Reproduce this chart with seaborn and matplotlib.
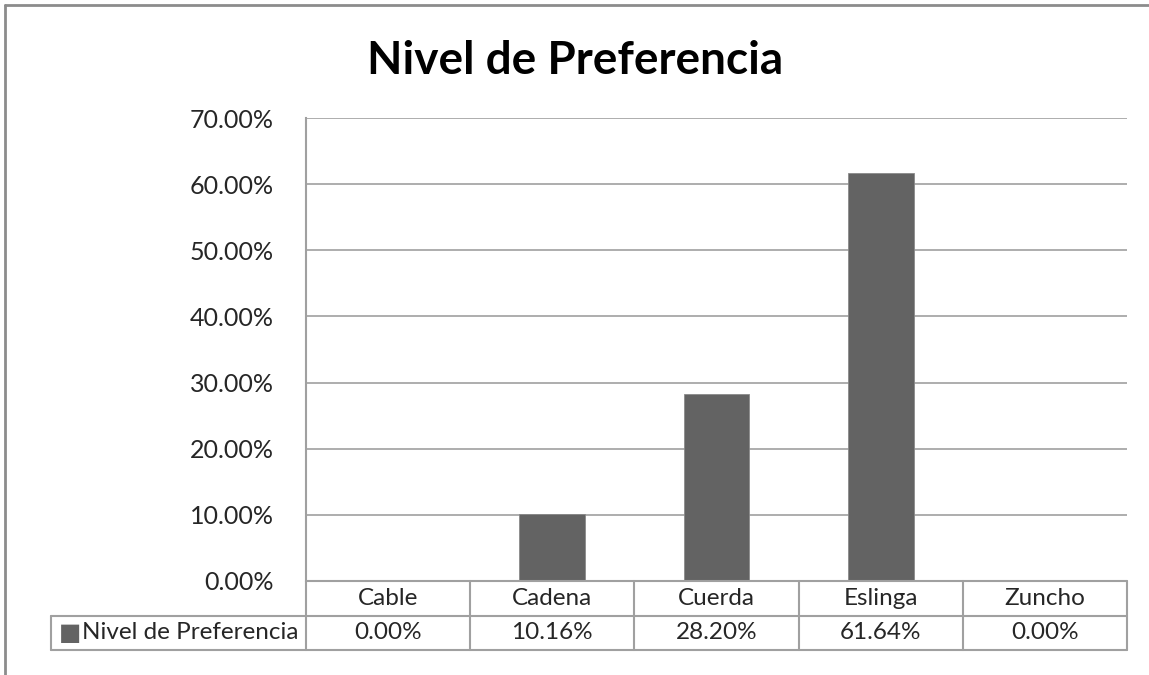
import numpy as np
import pandas as pd
import matplotlib
matplotlib.use('Agg')
import matplotlib.pyplot as plt
import seaborn as sns
from matplotlib.lines import Line2D

categories = ['Cable', 'Cadena', 'Cuerda', 'Eslinga', 'Zuncho']
values = [0.0, 10.16, 28.20, 61.64, 0.0]
series_name = 'Nivel de Preferencia'
title = 'Nivel de Preferencia'
yticks = [0, 10, 20, 30, 40, 50, 60, 70]

sns.set_theme(style='white')
plt.rcParams['font.family'] = ['Lato', 'DejaVu Sans']

bar_color = '#636363'
line_color = '#a0a0a0'
W, H = 1149, 675
fs = 17.5

df = pd.DataFrame({'cat': categories, 'val': values})

fig = plt.figure(figsize=(W / 100, H / 100), dpi=100)
fig.patch.set_facecolor('white')

# chart border (left + top)
fig.add_artist(Line2D([5 / W, 5 / W], [0, 1 - 5 / H], color='#8c8c8c', lw=2))
fig.add_artist(Line2D([5 / W, 1], [1 - 5 / H, 1 - 5 / H], color='#8c8c8c', lw=2))

x0, x1 = 306 / W, 1127 / W
ax = fig.add_axes([x0, (H - 581) / H, x1 - x0, 463 / H])
sns.barplot(data=df, x='cat', y='val', color=bar_color, width=0.4,
            saturation=1, ax=ax, edgecolor='#8a8a8a', linewidth=0.6)
ax.set_xlim(-0.5, len(categories) - 0.5)
ax.set_ylim(0, 70)
ax.set_yticks(yticks)
ax.set_yticklabels(['{:.2f}%'.format(v) for v in yticks], fontsize=18)
ax.tick_params(axis='y', length=0, pad=23)
ax.set_xticks([])
ax.set_xlabel('')
ax.set_ylabel('')
ax.yaxis.grid(True, color=line_color, lw=1.2)
ax.set_axisbelow(True)
for s in ['top', 'right', 'bottom']:
    ax.spines[s].set_visible(False)
ax.spines['left'].set_color(line_color)
ax.spines['left'].set_linewidth(1.5)

fig.text(575 / W, 1 - 61 / H, title, ha='center', va='center',
         fontsize=33, fontweight='bold', color='black')

# data table below the plot
tab = fig.add_axes([x0, (H - 650) / H, x1 - x0, 69 / H])
tab.set_xlim(-0.5, len(categories) - 0.5)
tab.set_ylim(0, 2)
tab.axis('off')
left_edge = -0.5 - (306 - 51) / (821 / len(categories))
lk = dict(color=line_color, lw=1.5, clip_on=False)
tab.plot([-0.5, 4.5], [2, 2], **lk)
tab.plot([left_edge, 4.5], [1, 1], **lk)
tab.plot([left_edge, 4.5], [0, 0], **lk)
tab.plot([left_edge, left_edge], [0, 1], **lk)
for i in range(len(categories) + 1):
    tab.plot([i - 0.5, i - 0.5], [0, 2], **lk)
for i, (c, v) in enumerate(zip(categories, values)):
    tab.text(i, 1.5, c, ha='center', va='center', fontsize=fs)
    tab.text(i, 0.5, '{:.2f}%'.format(v), ha='center', va='center', fontsize=fs)
tab.text(left_edge + 0.045, 0.5, '\u25a0', ha='left', va='center', fontsize=17,
         color=bar_color, family='DejaVu Sans', clip_on=False)
tab.text(left_edge + 0.19, 0.5, series_name, ha='left', va='center', fontsize=fs,
         clip_on=False)

fig.savefig('out.png', dpi=100, facecolor='white')
